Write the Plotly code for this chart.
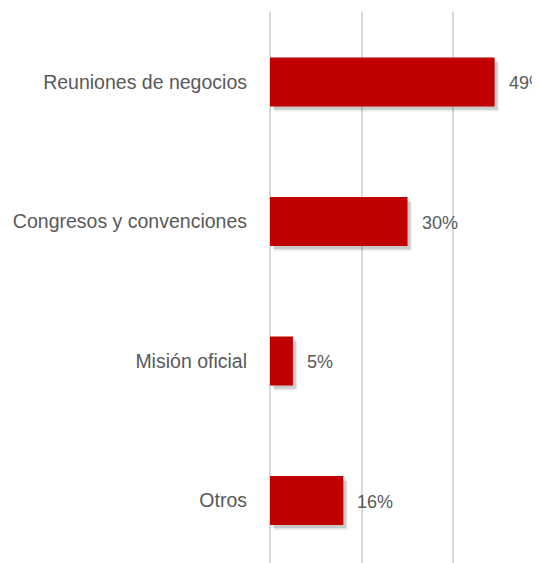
import plotly.graph_objects as go

categories = ["Reuniones de negocios", "Congresos y convenciones", "Misión oficial", "Otros"]
values = [49, 30, 5, 16]
value_labels = ["49%", "30%", "5%", "16%"]

bar_color = "#C00000"
text_color = "#595959"
font_family = "Liberation Sans, Arial, sans-serif"

fig = go.Figure()

# soft shadow layers
for dx, dy, op in [(0.9, 0.035, 0.10), (0.6, 0.022, 0.12)]:
    fig.add_trace(go.Bar(
        y=categories, x=values, orientation="h", base=dx,
        width=0.35, offset=-0.175 + dy,
        marker=dict(color=f"rgba(0,0,0,{op})", line=dict(width=0)),
        hoverinfo="skip", showlegend=False,
    ))

fig.add_trace(go.Bar(
    y=categories, x=values, orientation="h",
    width=0.35, offset=-0.175,
    marker=dict(color=bar_color, line=dict(width=0)),
    showlegend=False,
))

for c, v, t in zip(categories, values, value_labels):
    fig.add_annotation(x=v, y=c, text=t, showarrow=False, xanchor="left",
                       xshift=12, yshift=-1,
                       font=dict(family=font_family, size=18, color=text_color))

fig.update_layout(
    width=532, height=555,
    margin=dict(l=262, r=0, t=4, b=0),
    paper_bgcolor="white", plot_bgcolor="white",
    barmode="overlay",
    xaxis=dict(range=[0, 58.9], dtick=20, showticklabels=False, showgrid=True,
               gridcolor="#D9D9D9", gridwidth=1.5, zeroline=True,
               zerolinecolor="#D9D9D9", zerolinewidth=1.5, showline=False,
               automargin=False),
    yaxis=dict(range=[3.448, -0.502], showgrid=False, zeroline=False, showline=False,
               ticks="", ticklabelstandoff=22, automargin=False,
               tickfont=dict(family=font_family, size=19.5, color=text_color)),
)

fig.write_html("out.html")
